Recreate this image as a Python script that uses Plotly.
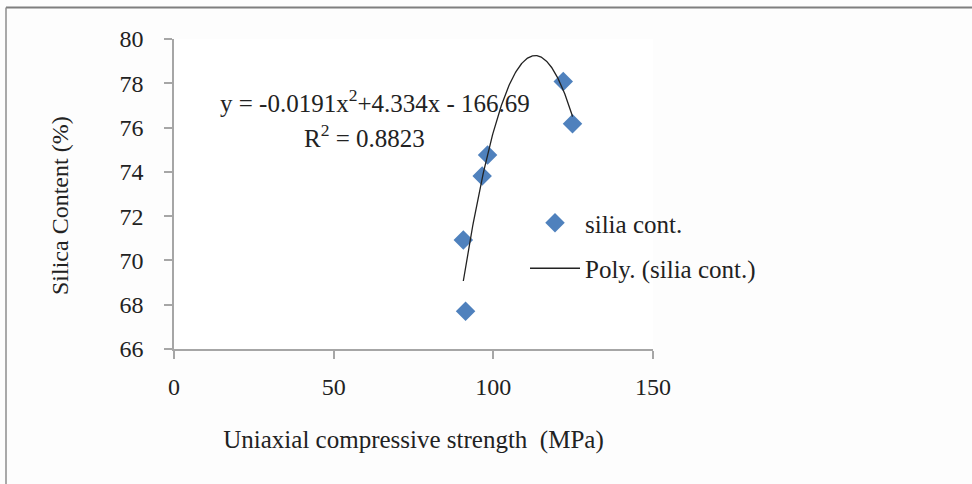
import numpy as np
import plotly.graph_objects as go

# Data
ucs_mpa = [90.6, 91.3, 96.5, 98.2, 121.9, 124.8]
silica_pct = [70.92, 67.71, 73.81, 74.76, 78.08, 76.17]

x_ticks = [0, 50, 100, 150]
y_ticks = [66, 68, 70, 72, 74, 76, 78, 80]

eq_text = "y = -0.0191x<sup>2</sup>+4.334x - 166.69"
r2_text = "R<sup>2</sup> = 0.8823"

# Polynomial (order 2) trendline fitted to the data
coef = np.polyfit(ucs_mpa, silica_pct, 2)
xt = np.linspace(min(ucs_mpa), max(ucs_mpa), 200)
yt = np.polyval(coef, xt)

FONT = "Liberation Serif"
AX = "#A6A6A6"

fig = go.Figure()
fig.add_trace(go.Scatter(
    x=ucs_mpa, y=silica_pct, mode="markers", name="silia cont.",
    marker=dict(symbol="diamond", size=15, color="#4F81BD"),
    legendgroup="a",
))
fig.add_trace(go.Scatter(
    x=xt, y=yt, mode="lines", name="Poly. (silia cont.)",
    line=dict(color="#222222", width=1.3),
    legendgroup="b",
))

fig.update_layout(
    width=972, height=484,
    margin=dict(l=174, r=319, t=39, b=135),
    paper_bgcolor="#FDFDFD", plot_bgcolor="#FFFFFF",
    font=dict(family=FONT, size=24, color="#222222"),
    showlegend=True,
    legend=dict(
        x=(525 - 174) / 479, y=(349 - 200) / 310, xanchor="left", yanchor="top",
        bgcolor="rgba(0,0,0,0)", font=dict(size=25, family=FONT),
        tracegroupgap=10, itemwidth=50,
    ),
    xaxis=dict(
        range=[0, 150], tickvals=x_ticks, showgrid=False, zeroline=False,
        showline=True, linecolor=AX, linewidth=1.5,
        ticks="outside", ticklen=8, tickcolor=AX, tickwidth=1.5,
        ticklabelstandoff=7, tickfont=dict(size=24, family=FONT),
        title=dict(text="Uniaxial compressive strength  (MPa)", standoff=32,
                   font=dict(size=25, family=FONT)),
    ),
    yaxis=dict(
        range=[66, 80], tickvals=y_ticks, showgrid=False, zeroline=False,
        showline=True, linecolor=AX, linewidth=1.5,
        ticks="outside", ticklen=8, tickcolor=AX, tickwidth=1.5,
        ticklabelstandoff=16, tickfont=dict(size=24, family=FONT),
    ),
    annotations=[
        dict(text="Silica Content (%)", xref="paper", yref="paper",
             x=(60 - 174) / 479, y=(349 - 206) / 310, textangle=-90,
             showarrow=False, xanchor="center", yanchor="middle",
             font=dict(size=24, family=FONT)),
        dict(text=eq_text, xref="paper", yref="paper",
             x=(375 - 174) / 479, y=(349 - 101) / 310,
             showarrow=False, xanchor="center", yanchor="middle",
             font=dict(size=25, family=FONT)),
        dict(text=r2_text, xref="paper", yref="paper",
             x=(364 - 174) / 479, y=(349 - 136) / 310,
             showarrow=False, xanchor="center", yanchor="middle",
             font=dict(size=25, family=FONT)),
    ],
    shapes=[
        dict(type="line", xref="paper", yref="paper",
             x0=(6 - 174) / 479, x1=(972 - 174) / 479,
             y0=(349 - 7.5) / 310, y1=(349 - 7.5) / 310,
             line=dict(color="#7F7F7F", width=2)),
        dict(type="line", xref="paper", yref="paper",
             x0=(6 - 174) / 479, x1=(6 - 174) / 479,
             y0=(349 - 7.5) / 310, y1=(349 - 484) / 310,
             line=dict(color="#8C8C8C", width=1.5)),
    ],
)

fig.write_html("out.html")
